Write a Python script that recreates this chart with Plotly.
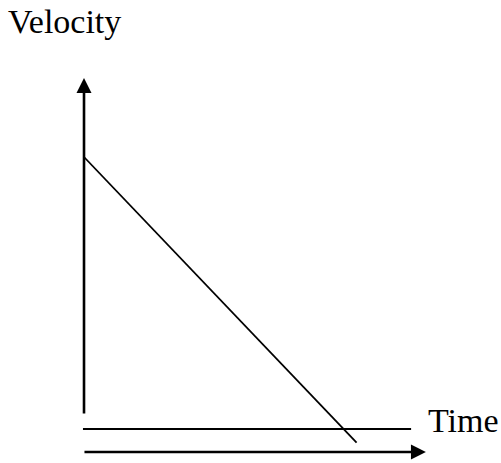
import plotly.graph_objects as go

# Data: velocity decreasing linearly with time
time = [0, 10.5]
velocity = [10, -0.5]

x_label = "Time"
y_label = "Velocity"

W, H = 501, 463
x_range = [-3.236, 16.063]
y_range = [-1.25, 15.772]

fig = go.Figure()
fig.add_trace(go.Scatter(x=time, y=velocity, mode="lines",
                         line=dict(color="black", width=1.8),
                         hoverinfo="skip", showlegend=False))

# zero line (time axis)
fig.add_shape(type="line", xref="x", yref="y", x0=-0.04, x1=12.6, y0=0, y1=0,
              line=dict(color="black", width=2.2))

annotations = [
    # vertical arrow (velocity axis)
    dict(x=0, y=12.9, ax=0, ay=0.515, xref="x", yref="y", axref="x", ayref="y",
         showarrow=True, arrowhead=2, arrowsize=1.15, arrowwidth=2.6, arrowcolor="black", text=""),
    # horizontal arrow (time direction)
    dict(x=13.17, y=-0.846, ax=-0.04, ay=-0.846, xref="x", yref="y", axref="x", ayref="y",
         showarrow=True, arrowhead=2, arrowsize=1.15, arrowwidth=2.6, arrowcolor="black", text=""),
    dict(x=6 / W, y=1 - 21.5 / H, xref="paper", yref="paper", text=y_label,
         showarrow=False, xanchor="left", yanchor="middle",
         font=dict(family="Liberation Serif", size=34, color="black")),
    dict(x=426 / W, y=1 - 420.5 / H, xref="paper", yref="paper", text=x_label,
         showarrow=False, xanchor="left", yanchor="middle",
         font=dict(family="Liberation Serif", size=34, color="black")),
]

fig.update_layout(
    width=W, height=H,
    margin=dict(l=0, r=0, t=0, b=0),
    paper_bgcolor="white", plot_bgcolor="white",
    xaxis=dict(range=x_range, visible=False, fixedrange=True),
    yaxis=dict(range=y_range, visible=False, fixedrange=True),
    annotations=annotations,
    showlegend=False,
)

fig.write_html("out.html",
               config=dict(displayModeBar=False, staticPlot=True),
               post_script="document.body.style.margin='0';document.body.style.overflow='hidden';")
